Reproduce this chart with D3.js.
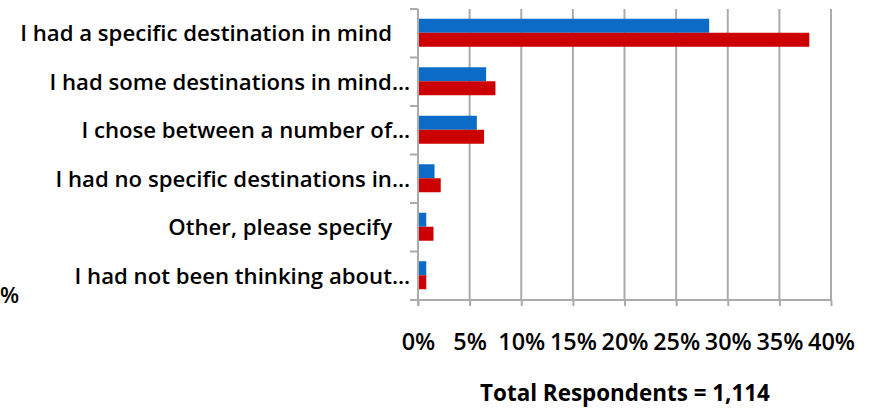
<!DOCTYPE html>
<html>
<head>
<meta charset="utf-8">
<script src="https://cdn.jsdelivr.net/npm/d3@7"></script>
<style>
  html, body { margin: 0; padding: 0; background: #fff; }
  svg { display: block; }
  text { font-family: "Open Sans", Lato, sans-serif; font-weight: 600; fill: #000; }
</style>
</head>
<body>
<svg id="chart" width="870" height="408"></svg>
<script>
const categories = [
  "I had a specific destination in mind",
  "I had some destinations in mind…",
  "I chose between a number of…",
  "I had no specific destinations in…",
  "Other, please specify",
  "I had not been thinking about…"
];
const truncated = [false, true, true, true, false, true];
const seriesBlue = [28.2, 6.6, 5.7, 1.6, 0.8, 0.8];
const seriesRed  = [37.9, 7.5, 6.4, 2.2, 1.5, 0.8];
const tickValues = [0, 5, 10, 15, 20, 25, 30, 35, 40];
const footerText = "Total Respondents = 1,114";

(function () {
const svg = d3.select("#chart");
const pL = 418, pR = 831, pT = 9, pB = 300;

// fit a text's font size so its rendered width equals target
function fit(sel, target) {
  sel.style("font-size", "20px");
  const w = sel.node().getComputedTextLength();
  const fs = 20 * target / w;
  sel.style("font-size", fs + "px");
  return fs;
}

const x = d3.scaleLinear().domain([0, 40]).range([pL, pR]);
const y = d3.scaleBand().domain(categories).range([pT, pB]).paddingInner(0).paddingOuter(0);
const sub = d3.scaleBand().domain(["blue", "red"]).range([0, 28]);
const barOffset = (y.bandwidth() - 28) / 2 - 0.5;

// gridlines
svg.append("g").selectAll("line").data(tickValues.slice(1)).join("line")
  .attr("x1", d => x(d)).attr("x2", d => x(d))
  .attr("y1", pT).attr("y2", pB)
  .attr("stroke", "#ababab").attr("stroke-width", 2);

// bars
const colors = { blue: "#0a6cc6", red: "#cc0000" };
const g = svg.append("g");
categories.forEach((c, i) => {
  [["blue", seriesBlue[i]], ["red", seriesRed[i]]].forEach(([k, v]) => {
    g.append("rect")
      .attr("x", x(0))
      .attr("y", y(c) + barOffset + sub(k))
      .attr("width", x(v) - x(0))
      .attr("height", sub.bandwidth())
      .attr("fill", colors[k]);
  });
});

// x axis
const xAxis = d3.axisBottom(x).tickValues(tickValues).tickSize(6).tickFormat(d => d + "%");
const gx = svg.append("g").attr("transform", `translate(0,${pB})`).call(xAxis);
gx.select(".domain").attr("stroke", "#ababab").attr("stroke-width", 2).attr("d", `M${pL - 8},0H${pR}`);
gx.selectAll(".tick line").attr("stroke", "#ababab").attr("stroke-width", 2);
const tickTexts = gx.selectAll(".tick text").attr("y", 50).attr("dy", "0")
  .style("font-family", "'Open Sans', Lato, sans-serif").style("font-weight", "600").attr("fill", "#000");
const tfs = fit(d3.select(tickTexts.nodes()[8]), 47);
tickTexts.style("font-size", tfs + "px");

// y axis
const yTickPos = d3.range(categories.length + 1).map(i => pT + i * y.bandwidth());
svg.append("line").attr("x1", pL).attr("x2", pL).attr("y1", pT).attr("y2", pB + 6)
  .attr("stroke", "#ababab").attr("stroke-width", 2);
svg.append("g").selectAll("line").data(yTickPos).join("line")
  .attr("x1", pL - 8).attr("x2", pL).attr("y1", d => d).attr("y2", d => d)
  .attr("stroke", "#ababab").attr("stroke-width", 2);

// category labels
const labels = svg.append("g").selectAll("text").data(categories).join("text")
  .attr("x", (d, i) => truncated[i] ? 410 : 392)
  .attr("y", d => y(d) + y.bandwidth() / 2)
  .attr("dy", "0.35em")
  .attr("text-anchor", "end")
  .text(d => d);
const lfs = fit(d3.select(labels.nodes()[0]), 372);
labels.style("font-size", lfs + "px");

// cut-off label at far left
svg.append("text").attr("x", 0).attr("y", 303)
  .attr("text-anchor", "start").style("font-size", lfs + "px").text("%");

// footer
const foot = svg.append("text").attr("x", 625).attr("y", 401)
  .attr("text-anchor", "middle").style("font-weight", "bold")
  .text(footerText);
fit(foot, 290);
})();
</script>
</body>
</html>
